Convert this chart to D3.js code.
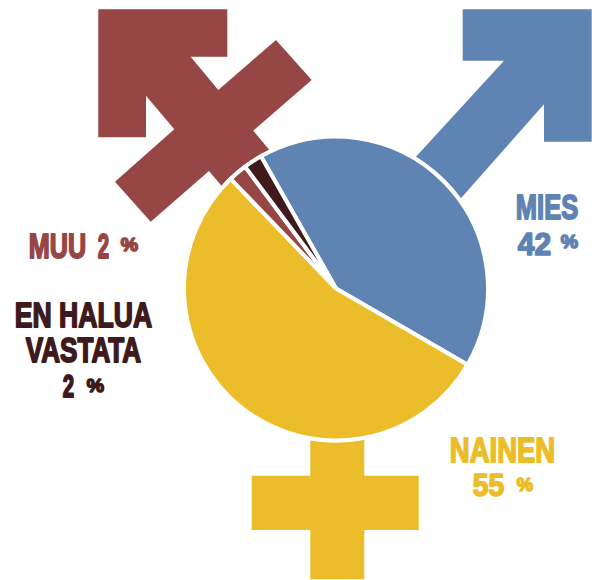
<!DOCTYPE html>
<html><head><meta charset="utf-8">
<style>html,body{margin:0;background:#fff}svg{display:block}
text{font-family:"Liberation Sans",sans-serif;font-weight:700;stroke-linejoin:round;vector-effect:non-scaling-stroke}</style>
<script src="https://cdn.jsdelivr.net/npm/d3@7/dist/d3.min.js"></script>
</head><body><svg id="c" width="596" height="580"></svg>
<script>
const categories = ["Mies", "Nainen", "Muu", "En halua vastata"];
const shares = [42, 55, 2, 2];
const colors = ["#5f84b4", "#ecbd2a", "#964644", "#3f1a1c"];
const labelLines = [["MIES"], ["NAINEN"], ["MUU"], ["EN HALUA", "VASTATA"]];

const W = 596, H = 580, cx = 336, cy = 288.5, R = 152;
const svg = d3.select("#c");
const line = d3.line();

const glyphs = [
  {c: 2, p: [[98.3,9.3],[227.3,9.3],[227.3,56.7],[190.7,56.7],[218.3,90],[276,40],[311.7,80],[253.3,130.7],[290,175],[225,190],[209,171],[150.7,221.7],[115,181.7],[174.3,129.3],[146,95.7],[146,137.3],[98.3,137.3]]},
  {c: 0, p: [[462.7,9.3],[591.7,9.3],[591.7,141.7],[544,141.7],[544,104.3],[440,222],[390,185],[504,60.7],[462.7,60.7]]},
  {c: 1, p: [[310.3,420],[364.3,420],[364.3,475.7],[418.7,475.7],[418.7,530],[364.3,530],[364.3,579.3],[310.3,579.3],[310.3,530],[251.7,530],[251.7,475.7],[310.3,475.7]]}
];
svg.selectAll("path.glyph").data(glyphs).join("path").attr("class","glyph")
  .attr("d", d => line(d.p) + "Z").attr("fill", d => colors[d.c]);

svg.append("circle").attr("cx",cx).attr("cy",cy).attr("r",154).attr("fill","#fff");

const pie = d3.pie().sort(null).startAngle(-29.6*Math.PI/180).endAngle((360-29.6)*Math.PI/180);
const arc = d3.arc().innerRadius(0).outerRadius(R);
svg.append("g").attr("transform",`translate(${cx},${cy})`)
  .selectAll("path").data(pie(shares)).join("path")
  .attr("d",arc).attr("fill",(d,i)=>colors[i]).attr("stroke","#fff").attr("stroke-width",4);

// [x0, x1, baseline] per word: name lines, then the number, then the percent sign
const labelBoxes = [
  {name:[[515,579,220]], num:[517,552,256], pct:[560,579,249]},
  {name:[[449,556,463]], num:[472,505,497], pct:[516,534,492]},
  {name:[[28,87,259]], num:[97,110,259], pct:[120,139,252]},
  {name:[[14,153,328],[25,142,363]], num:[62,75,398], pct:[86,105,393]}
];
function put(s, box, size, color, sw){
  const t = svg.append("text").attr("font-size",size)
    .attr("fill",color).attr("stroke",color).attr("stroke-width",sw).text(s);
  const b = t.node().getBBox();
  const k = (box[1]-box[0]-sw)/b.width;
  t.attr("transform",`translate(${box[0]+sw/2-b.x*k},${box[2]-sw/2}) scale(${k},1)`);
}
document.fonts.ready.then(()=>{
  labelBoxes.forEach((b,i)=>{
    labelLines[i].forEach((s,j)=>put(s,b.name[j],35.5,colors[i],1.6));
    put(String(shares[i]),b.num,i===2?35.5:31.5,colors[i],1.6);
    put("%",b.pct,19,colors[i],1.6);
  });
});
</script></body></html>
